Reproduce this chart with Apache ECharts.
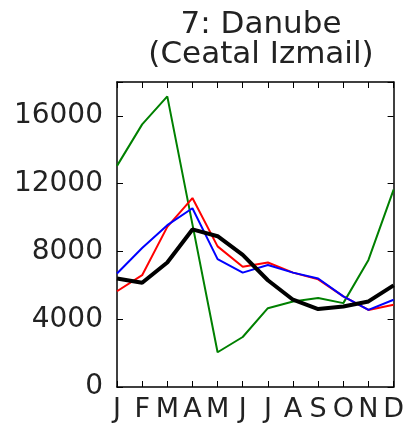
<!DOCTYPE html>
<html><head><meta charset="utf-8">
<script src="https://cdn.jsdelivr.net/npm/echarts@6/dist/echarts.min.js"></script>
<style>html,body{margin:0;padding:0;background:#fff}#c{width:407px;height:423px}</style>
</head><body><div id="c"></div>
<script>
const months = ['J','F','M','A','M','J','J','A','S','O','N','D'];
const yTicks = [0, 4000, 8000, 12000, 16000];
const greenSeries = [13050, 15500, 17150, 9600, 2050, 2950, 4650, 5050, 5250, 4950, 7500, 11650];
const redSeries   = [5650, 6600, 9450, 11150, 8300, 7100, 7350, 6750, 6350, 5350, 4550, 4850];
const blueSeries  = [6700, 8200, 9550, 10550, 7550, 6750, 7200, 6750, 6400, 5350, 4550, 5150];
const blackSeries = [6400, 6150, 7350, 9300, 8900, 7800, 6300, 5150, 4600, 4750, 5050, 6000];

const font = 'DejaVu Sans';
const txt = '#222';
const chart = echarts.init(document.getElementById('c'), null, {renderer:'canvas'});
const axLine = {show:true, onZero:false, lineStyle:{color:'#000', width:1.5}};
const tick = {show:true, inside:true, length:6, lineStyle:{color:'#000', width:1}};
function ln(data, color, w, z){
  return {type:'line', data, symbol:'none', lineStyle:{color, width:w}, itemStyle:{color}, z, animation:false};
}
chart.setOption({
  animation:false,
  title:{text:'7: Danube\n(Ceatal Izmail)', left:256, top:5, textAlign:'center',
    textStyle:{fontFamily:font, fontSize:31, fontWeight:'normal', color:txt, lineHeight:30}},
  grid:{left:117, right:10, top:82, bottom:36, containLabel:false},
  xAxis:[
    {type:'category', data:months, boundaryGap:false, position:'bottom',
     axisLine:axLine, axisTick:Object.assign({interval:0}, tick),
     axisLabel:{interval:0, fontFamily:font, fontSize:27, color:txt, margin:9}, splitLine:{show:false}},
    {type:'category', data:months, boundaryGap:false, position:'top',
     axisLine:axLine, axisTick:Object.assign({interval:0}, tick), axisLabel:{show:false}, splitLine:{show:false}}
  ],
  yAxis:[
    {type:'value', min:0, max:18000, interval:4000, position:'left',
     axisLine:axLine, axisTick:tick, splitLine:{show:false},
     axisLabel:{fontFamily:font, fontSize:28, color:txt, margin:14,
       formatter:v => yTicks.includes(v) ? String(v) : ''}},
    {type:'value', min:0, max:18000, interval:4000, position:'right',
     axisLine:axLine, axisTick:tick, splitLine:{show:false}, axisLabel:{show:false}}
  ],
  series:[
    ln(greenSeries, '#008000', 2, 2),
    ln(redSeries, '#ff0000', 2, 3),
    ln(blueSeries, '#0000ff', 2, 4),
    ln(blackSeries, '#000000', 4, 5)
  ]
});
</script></body></html>
